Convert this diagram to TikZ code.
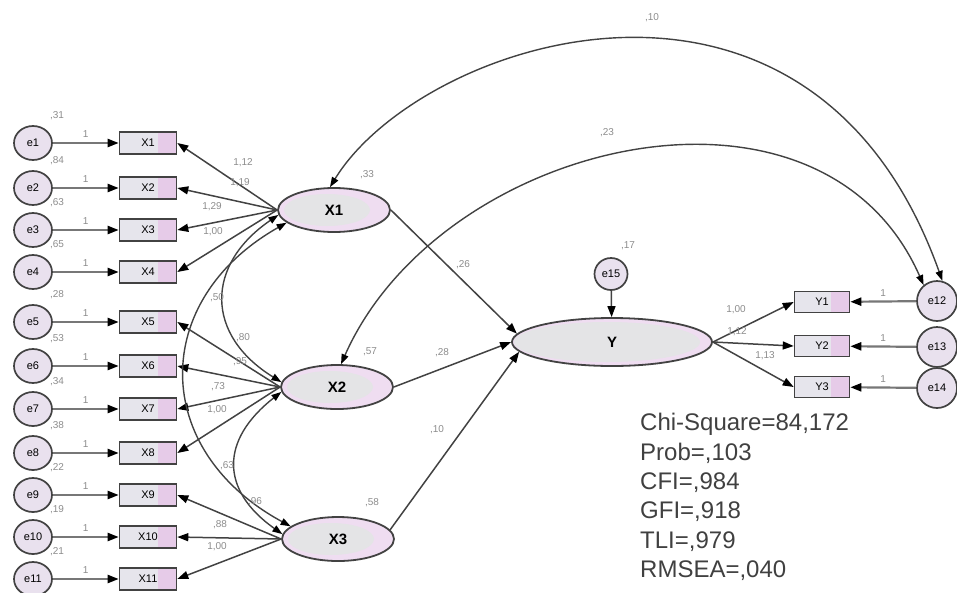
\documentclass[tikz,border=0pt]{standalone}
\usepackage{fontspec}
\setmainfont{Liberation Sans}
\usepackage{tikz}
\usetikzlibrary{shapes.geometric}
\usetikzlibrary{arrows.meta}
\definecolor{edgegray}{HTML}{424242}
\definecolor{fixgray}{HTML}{777777}
\definecolor{estgray}{HTML}{8C8C8C}
\definecolor{textgray}{HTML}{404040}
\definecolor{latentgray}{HTML}{E4E4E6}
\definecolor{lavender}{HTML}{EFDDF1}
\definecolor{boxgray}{HTML}{E6E5EC}
\definecolor{boxpink}{HTML}{E6CBE8}
\definecolor{errfill}{HTML}{E9E1EE}
\tikzstyle{latent}=[ellipse, draw=edgegray, line width=1.8pt, fill=lavender, inner sep=0,
                    minimum width=112pt, minimum height=44pt, font=\fontsize{15}{15}\selectfont\bfseries,
                    % gray core, lavender rim to the right
                    path picture={\fill[latentgray] ([xshift=-7pt]path picture bounding box.center) ellipse (43pt and 16pt);}]
\tikzstyle{observed}=[rectangle, draw=edgegray, line width=1.6pt, fill=boxgray, inner sep=0,
                      minimum width=57pt, minimum height=22pt, font=\fontsize{11}{11}\selectfont,
                      path picture={\fill[boxpink] ([xshift=-19pt]path picture bounding box.north east) rectangle (path picture bounding box.south east);}]
\tikzstyle{errvar}=[ellipse, draw=edgegray, line width=1.7pt, fill=errfill, inner sep=0,
                    minimum width=38pt, minimum height=34pt, font=\fontsize{11}{11}\selectfont]
\tikzstyle{arr}=[draw=edgegray, line width=1.5pt, -{Triangle[length=11pt, width=8pt, color=black]}]
\tikzstyle{fixarr}=[arr, draw=fixgray, line width=2.2pt]
\tikzstyle{cov}=[draw=edgegray, line width=1.4pt,
                 {Triangle[length=10pt, width=7pt, color=black]}-{Triangle[length=10pt, width=7pt, color=black]}]
\tikzstyle{est}=[font=\fontsize{10}{10}\selectfont, text=estgray, inner sep=0]

\begin{document}
\begin{tikzpicture}[x=1pt, y=-1pt]
    \path[use as bounding box] (0,0) rectangle (957,592);
    \clip (0,0) rectangle (957,592);
    % indicators of X1, X2, X3 with their errors
    \foreach \i/\yy/\v in {1/143/{,31},2/188/{,84},3/230/{,63},4/272/{,65},5/322/{,28},6/366/{,53},
                           7/409/{,34},8/453/{,38},9/495/{,22},10/537/{,19},11/579/{,21}}{
        \node[errvar] (e\i) at (33,\yy) {e\i};
        \node[observed] (O\i) at (148,\yy) {X\i};
        \draw[fixarr] (e\i) -- node[est, above=4pt] {1} (O\i);
        \node[est] at (57,\yy-27) {\v};
    }
    \node[latent] (X1) at (334,210) {X1};
    \node[latent] (X2) at (337,387) {X2};
    \node[latent] (X3) at (338,539) {X3};
    \node[latent, minimum width=200pt, minimum height=48pt,
          path picture={\fill[latentgray] ([xshift=-5pt]path picture bounding box.center) ellipse (93pt and 20pt);}]
          (Y) at (612,342) {Y};
    \node[errvar, minimum width=33pt, minimum height=32pt] (e15) at (611,274) {e15};
    \node[observed, minimum width=55pt, minimum height=21pt] (OY1) at (822,302) {Y1};
    \node[observed, minimum width=55pt, minimum height=21pt] (OY2) at (822,346) {Y2};
    \node[observed, minimum width=55pt, minimum height=21pt] (OY3) at (822,387) {Y3};
    \node[errvar, minimum width=40pt, minimum height=40pt] (e12) at (937,301) {e12};
    \node[errvar, minimum width=40pt, minimum height=40pt] (e13) at (937,347) {e13};
    \node[errvar, minimum width=40pt, minimum height=40pt] (e14) at (937,388) {e14};

    \draw[arr] (X1.west) -- (O1.east);
    \draw[arr] (X1.west) -- (O2.east);
    \draw[arr] (X1.west) -- (O3.east);
    \draw[arr] (X1.west) -- (O4.east);
    \draw[arr] (X2.west) -- (O5.east);
    \draw[arr] (X2.west) -- (O6.east);
    \draw[arr] (X2.west) -- (O7.east);
    \draw[arr] (X2.west) -- (O8.east);
    \draw[arr] (X3.west) -- (O9.east);
    \draw[arr] (X3.west) -- (O10.east);
    \draw[arr] (X3.west) -- (O11.east);
    \draw[cov] (X1.185) .. controls (205,265) and (205,335) .. (X2.175);
    \draw[cov] (X1.195) .. controls (150,300) and (150,450) .. (X3.165);
    \draw[cov] (X2.185) .. controls (220,440) and (220,490) .. (X3.175);
    \draw[cov] (X1.100) .. controls (420,40) and (810,-90) .. (e12.75);
    \draw[cov] (X2.80) .. controls (440,140) and (820,50) .. (e12.130);
    \draw[arr] (X1.east) -- (Y.175);
    \draw[arr] (X2.east) -- (Y.west);
    \draw[arr] (X3.10) -- (Y.186);
    \draw[arr] (e15) -- (Y);
    \draw[arr] (Y.east) -- (OY1.west);
    \draw[arr] (Y.east) -- (OY2.west);
    \draw[arr] (Y.east) -- (OY3.west);
    \draw[fixarr] (e12) -- node[est, above=4pt] {1} (OY1);
    \draw[fixarr] (e13) -- node[est, above=4pt] {1} (OY2);
    \draw[fixarr] (e14) -- node[est, above=4pt] {1} (OY3);

    % estimates
    \node[est] at (243,163) {1,12};
    \node[est] at (240,183) {1,19};
    \node[est] at (212,207) {1,29};
    \node[est] at (213,232) {1,00};
    \node[est] at (243,338) {,80};
    \node[est] at (240,362) {,95};
    \node[est] at (218,387) {,73};
    \node[est] at (217,410) {1,00};
    \node[est] at (255,502) {,96};
    \node[est] at (220,525) {,88};
    \node[est] at (217,547) {1,00};
    \node[est] at (217,298) {,50};
    \node[est] at (227,466) {,63};
    \node[est] at (367,175) {,33};
    \node[est] at (370,352) {,57};
    \node[est] at (372,503) {,58};
    \node[est] at (463,265) {,26};
    \node[est] at (442,353) {,28};
    \node[est] at (437,430) {,10};
    \node[est] at (652,18) {,10};
    \node[est] at (607,133) {,23};
    \node[est] at (628,246) {,17};
    \node[est] at (736,310) {1,00};
    \node[est] at (737,332) {1,12};
    \node[est] at (765,356) {1,13};

    \node[anchor=north west, align=left, inner sep=0, text=textgray,
          font=\fontsize{24}{29.4}\selectfont] (fit) at (640,413)
          {Chi-Square=84,172\\Prob=,103\\CFI=,984\\GFI=,918\\TLI=,979\\RMSEA=,040};
\end{tikzpicture}
\end{document}
